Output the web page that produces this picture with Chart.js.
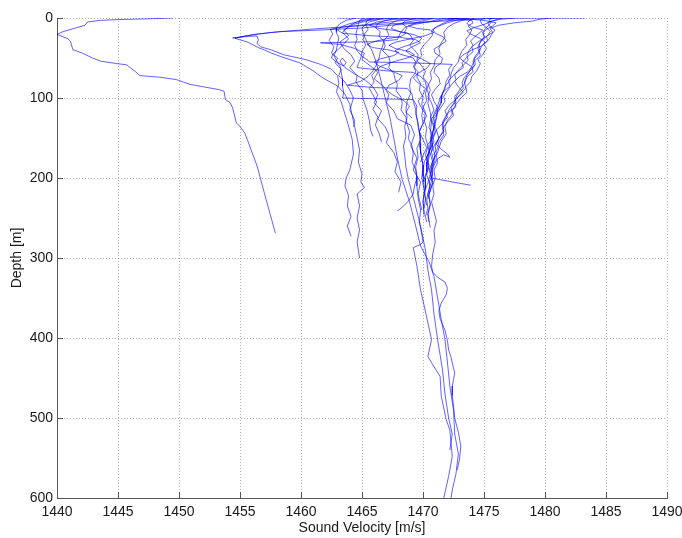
<!DOCTYPE html>
<html>
<head>
<meta charset="utf-8">
<script src="https://cdn.jsdelivr.net/npm/chart.js@4/dist/chart.umd.min.js"></script>
<style>
  html, body { margin: 0; padding: 0; background: #ffffff; }
  canvas { display: block; }
</style>
</head>
<body>
<canvas id="svp" width="682" height="538"></canvas>
<script>
// Sound velocity casts: each entry is [depth (m), sound velocity (m/s)]
const cast01 = [[0,1449.5],[1,1447.5],[2,1445],[3,1443.5],[5,1442.5],[9,1442.3],[14,1441.2],[17,1440.5],[20.5,1440],[26,1440.9],[29,1441.1],[39.6,1441.3],[44,1442.1],[50,1442.9],[54,1443.6],[57,1444.9],[58.5,1445.7],[66.7,1446.4],[72,1446.8],[74,1448.4],[77,1449.8],[83,1450.9],[86,1452],[89.6,1453.3],[91.7,1453.7],[102,1453.8],[106,1454.2],[112.5,1454.4],[131,1454.7],[135.5,1455],[144,1455.4],[152,1455.6],[185,1456.4],[219,1457],[269,1457.9]];
const cast02 = [[0,1473.0],[3,1471.5],[6,1469.8],[9,1467.4],[12.5,1465.0],[15,1461.6],[17,1458.3],[20,1456.4],[24,1454.9],[25,1454.4],[23,1455.6],[22.5,1456.4],[27,1456.5],[32,1456.4],[36,1456.7],[40,1457.6],[46,1458.6],[52,1460.4],[58,1461.6],[64,1462.5],[72,1463.0],[82,1463.1],[92,1462.9],[105,1463.3],[120,1463.6],[135,1463.9],[152,1464.2],[170,1464.3],[190,1464.0],[200,1463.7],[210,1463.6],[222,1463.9],[235,1463.8],[248,1464.1],[260,1463.8],[273,1464.1]];
const cast03 = [[0,1470.2],[4,1467.8],[8,1465.6],[11,1463.6],[14,1460.8],[18,1457.6],[22,1455.6],[25.5,1454.6],[30,1455.6],[37,1456.5],[40,1457.0],[44,1457.6],[48,1458.3],[56,1459.9],[66,1461.0],[75,1461.8],[85,1463.0],[95,1463.6],[108,1464.0],[122,1464.2],[136,1464.4],[150,1464.6],[165,1464.8],[180,1464.7],[195,1465.0],[205,1464.9],[212,1465.2],[220,1464.6],[235,1464.8],[250,1464.6],[265,1464.8],[280,1464.6],[290,1464.7],[300,1464.8]];
const cast04 = [[0,1467.6],[3,1465.6],[8,1464.3],[15,1463.5],[22,1463.9],[30,1463.2],[38,1463.5],[46,1464.1],[54,1464.4],[62,1464.0],[72,1464.6],[80,1464.5],[90,1465.0],[102,1465.1],[115,1465.4],[128,1465.6],[140,1465.7],[148,1465.9]];
const cast05 = [[0,1471.0],[5,1469.6],[12,1468.5],[20,1468.1],[27,1467.9],[29.6,1466.0],[31,1461.6],[33,1463.2],[38,1464.4],[44,1465.2],[52,1465.0],[60,1465.7],[68,1466.3],[76,1466.0],[86,1466.8],[96,1467.2],[106,1467.0],[116,1467.6],[126,1467.9],[134,1469.0],[146,1469.3],[160,1469.0],[175,1469.5],[190,1469.2],[205,1469.8],[220,1469.6],[240,1469.9]];
const cast06 = [[0,1466.0],[3,1465.4],[8,1465.3],[14,1465.5],[20,1465.2],[27,1465.1],[34,1465.3],[42,1465.0],[50,1464.9],[57,1464.7],[62,1464.6],[66,1467.0],[68,1469.2],[73,1469.8],[80,1470.2],[88,1470.3],[97,1470.5],[107,1470.4],[118,1470.6],[130,1470.7],[142,1470.6],[155,1470.8],[168,1470.7],[180,1470.9],[190,1470.8],[200,1470.7],[205,1472.4],[209,1473.9]];
const cast07 = [[0,1468.8],[3,1467.9],[8,1467.2],[14,1467.0],[21,1467.2],[28,1466.8],[35,1466.7],[42,1466.5],[50,1466.4],[58,1466.2],[66,1465.9],[73,1465.5],[79,1464.9],[84,1463.8],[87,1466.0],[88,1468.7],[95,1469.1],[104,1469.2],[114,1469.4],[125,1469.5],[136,1469.6],[148,1469.8],[160,1469.7],[172,1469.9],[186,1470.0],[200,1469.9],[215,1470.1],[230,1470.0],[248,1470.1]];
const cast08 = [[0,1464.5],[3,1463.7],[7,1463.2],[12,1462.9],[18,1462.9],[25,1463.1],[32,1463.0],[40,1462.9],[47,1462.7],[53,1462.9],[60,1463.2],[68,1463.3],[76,1463.4],[85,1463.4],[93,1463.5],[100,1463.4],[101,1466.5],[102,1469.2],[110,1469.5],[120,1469.4],[131,1469.6],[143,1469.7],[156,1469.8],[170,1469.8],[184,1470.0],[198,1470.0],[212,1470.1],[226,1470.2],[238,1470.1]];
const cast09 = [[0,1465.8],[4,1464.7],[10,1463.9],[18,1463.4],[26,1463.9],[34,1463.4],[40,1463.0],[45,1462.6],[50,1462.5],[55,1462.9],[60,1463.5],[56,1463.7],[50,1463.4],[54,1463.2],[62,1463.6],[70,1464.4],[78,1465.3],[86,1465.9],[96,1466.3],[106,1466.0],[116,1466.6],[126,1466.3],[136,1466.9],[146,1467.2],[156,1467.0],[168,1467.6],[180,1467.9],[192,1467.7],[205,1468.2],[218,1468.0]];
const cast10 = [[0,1476.5],[2,1476.0],[6,1475.3],[11,1475.5],[15,1475.9],[21,1475.6],[27,1475.4],[33,1475.0],[38,1475.2],[46,1474.9],[52,1474.5],[57,1474.7],[66,1474.4],[73,1474.0],[80,1473.9],[86,1473.5],[93,1473.6],[100,1473.1],[108,1472.7],[116,1472.4],[122,1472.5],[130,1472.0],[138,1471.6],[146,1471.7],[155,1471.3],[163,1471.2],[170,1470.9],[178,1471.0],[187,1470.7],[196,1470.8],[205,1470.5],[214,1470.6],[226,1470.4]];
const cast11 = [[0,1475.0],[3,1474.7],[7,1474.8],[12,1475.2],[17,1475.5],[22,1475.3],[28,1474.8],[33,1474.6],[40,1474.7],[47,1474.3],[54,1474.1],[60,1474.2],[67,1473.8],[74,1473.4],[81,1473.2],[88,1473.3],[96,1472.8],[104,1472.6],[111,1472.7],[118,1472.1],[126,1471.8],[134,1471.6],[142,1471.7],[150,1471.3],[158,1471.1],[164,1471.5],[170,1472.0],[174,1472.2],[171,1471.7],[176,1471.2],[184,1470.9],[194,1470.6],[204,1470.7],[214,1470.5],[226,1470.3],[238,1470.4],[248,1470.2],[255,1470.3]];
const cast12 = [[0,1474.2],[3,1473.8],[7,1473.6],[11,1474.0],[15,1474.9],[19,1474.6],[24,1474.2],[29,1473.9],[34,1474.1],[40,1473.8],[47,1473.6],[53,1473.7],[59,1473.3],[65,1472.9],[71,1472.6],[77,1472.7],[84,1472.3],[91,1472.0],[98,1471.7],[104,1471.8],[111,1471.5],[118,1471.2],[126,1470.9],[134,1471.0],[142,1470.8],[150,1470.6],[160,1470.7],[170,1470.4],[180,1470.3],[192,1470.3],[205,1470.0]];
const cast13 = [[0,1483.3],[0.6,1472.0],[1.5,1473.8],[3,1475.0],[6,1476.0],[10,1475.7],[14,1475.2],[19,1474.9],[24,1475.1],[30,1474.5],[36,1474.0],[42,1474.1],[49,1473.6],[56,1473.2],[62,1473.3],[70,1472.6],[78,1472.1],[85,1472.2],[92,1471.7],[100,1471.4],[110,1471.2],[120,1470.9],[130,1470.8],[140,1471.1],[148,1470.9],[158,1470.4],[168,1470.5],[180,1470.1],[192,1470.0],[205,1470.1]];
const cast14 = [[0,1480.5],[1.5,1479.6],[4,1478.9],[6,1477.5],[9,1476.2],[13,1475.5],[18,1475.7],[23,1475.2],[28,1475.3],[34,1474.9],[40,1474.6],[47,1474.7],[54,1474.2],[60,1474.0],[67,1474.1],[74,1473.6],[82,1473.4],[90,1473.0],[98,1472.6],[105,1472.7],[113,1472.2],[122,1471.9],[130,1471.6],[140,1471.7],[150,1471.3],[160,1471.0],[170,1471.1],[180,1470.8],[192,1470.7],[206,1470.8],[220,1470.5]];
const cast15 = [[0,1469.5],[3,1468.6],[7,1468.3],[12,1468.7],[17,1468.5],[22,1469.0],[28,1469.2],[34,1468.9],[40,1469.3],[46,1469.6],[53,1469.5],[60,1469.9],[67,1470.2],[74,1470.0],[82,1470.4],[90,1470.6],[98,1470.4],[106,1470.7],[115,1470.9],[124,1470.6],[133,1470.8],[142,1471.0],[152,1470.7],[162,1470.8],[172,1471.0],[182,1470.7],[194,1470.6],[206,1470.8],[220,1470.5],[234,1470.6],[246,1470.4],[255,1470.5]];
const cast16 = [[0,1468.0],[3,1466.9],[7,1466.3],[12,1466.1],[17,1466.5],[23,1466.4],[29,1466.8],[35,1466.9],[41,1466.7],[48,1467.2],[55,1467.3],[62,1467.2],[69,1467.6],[76,1467.7],[83,1467.9],[91,1467.8],[99,1468.2],[107,1468.3],[115,1468.2],[124,1468.6],[133,1468.7],[142,1468.9],[151,1468.8],[160,1469.1],[170,1469.2],[180,1469.1],[190,1469.4],[200,1469.5],[210,1469.3],[220,1469.2],[229,1468.8],[235,1468.4],[239,1468.1],[241,1467.9]];
const cast17 = [[0,1470.8],[2,1469.9],[5,1468.7],[9,1467.6],[13,1467.4],[17,1468.1],[21,1469.3],[25,1469.9],[29,1469.7],[33,1469.0],[37,1468.2],[41,1467.7],[45,1468.1],[50,1469.2],[55,1469.4],[61,1469.2],[67,1469.6],[74,1469.5],[82,1469.8],[90,1469.7],[99,1470.0],[108,1469.9],[118,1470.2],[128,1470.1],[138,1470.3],[149,1470.2],[160,1470.4],[172,1470.2],[184,1470.5],[196,1470.3],[208,1470.6],[220,1470.4],[232,1470.6],[244,1470.4],[254,1470.5],[262,1470.6]];
const cast18 = [[0,1465.2],[3,1464.8],[8,1464.7],[14,1464.6],[20,1464.5],[27,1464.6],[34,1464.4],[41,1464.6],[48,1465.0],[53,1465.5],[55,1465.6],[56,1469.0],[58,1472.4],[64,1472.1],[71,1472.2],[79,1471.9],[88,1471.8],[97,1471.5],[106,1471.5],[116,1471.2],[126,1471.1],[137,1470.9],[148,1470.7],[160,1470.6],[172,1470.5],[186,1470.4],[200,1470.2],[214,1470.2],[228,1470.0],[245,1470.1]];
const cast19 = [[0,1473.5],[2,1472.9],[6,1472.0],[10,1471.3],[14,1470.8],[19,1471.0],[24,1471.7],[29,1471.9],[34,1471.4],[39,1470.9],[44,1471.0],[50,1471.6],[56,1471.5],[62,1471.0],[68,1470.9],[75,1471.3],[82,1471.4],[89,1471.0],[96,1470.7],[104,1470.9],[112,1471.2],[120,1471.0],[128,1470.6],[137,1470.5],[146,1470.8],[155,1470.9],[164,1470.6],[174,1470.3],[184,1470.4],[195,1470.6],[206,1470.4],[218,1470.1],[234,1470.3]];
const cast20 = [[0,1466.8],[5,1465.6],[12,1465.0],[19,1465.1],[30,1465.4],[40,1465.8],[52,1466.1],[75,1466.5],[100,1466.9],[125,1467.3],[150,1467.6],[175,1467.9],[202,1468.3],[230,1468.9],[260,1469.4],[285,1469.8],[305,1470.5],[323,1470.9],[350,1471.2],[377,1471.5],[402,1471.8],[430,1472.0],[460,1472.2],[490,1472.5],[520,1472.6],[545,1472.9],[570,1472.7],[590,1472.4],[600,1472.3]];
const cast21 = [[0,1476.2],[2,1474.0],[5,1470.2],[8,1466.5],[11,1463.6],[14,1462.4],[20,1462.6],[28,1462.3],[36,1462.7],[44,1462.5],[50,1463.0],[56,1462.8],[64,1463.3],[72,1463.1],[80,1463.6],[90,1464.0],[100,1464.3],[115,1464.0],[128,1464.4],[136,1464.3]];
const cast22 = [[0,1473.8],[3,1473.2],[7,1472.5],[12,1472.0],[18,1471.7],[24,1471.8],[31,1471.5],[38,1471.3],[45,1471.4],[52,1471.0],[60,1470.9],[68,1470.6],[76,1470.7],[85,1470.4],[94,1470.2],[103,1470.3],[112,1470.0],[122,1469.9],[132,1470.0],[142,1469.7],[152,1469.8],[163,1469.5],[174,1469.6],[186,1469.4],[198,1469.5],[210,1469.5],[225,1469.6],[240,1469.8],[255,1469.7],[270,1469.9],[280,1470.0],[283,1469.8],[287,1469.2],[310,1469.5],[340,1469.8],[360,1470.1],[381,1470.4],[402,1470.7],[423,1470.4],[431,1470.7],[448,1471.4],[473,1471.5],[502,1471.9],[515,1472.2],[548,1472.4],[573,1472.1],[600,1471.7]];
const cast23 = [[0,1475.8],[2,1475.4],[5,1475.6],[9,1475.4],[13,1475.1],[18,1474.9],[24,1475.0],[30,1474.7],[37,1474.5],[44,1474.6],[51,1474.2],[58,1474.3],[65,1473.9],[72,1473.6],[80,1473.4],[88,1473.5],[96,1473.0],[104,1472.6],[112,1472.3],[120,1472.4],[128,1472.0],[136,1471.8],[145,1471.9],[154,1471.5],[163,1471.3],[172,1471.1],[181,1471.2],[190,1470.9],[200,1471.0],[210,1470.8],[220,1470.9],[230,1470.7],[242,1470.9],[254,1471.1],[266,1470.9],[280,1471.0],[295,1470.8],[310,1470.7],[318,1470.8],[324,1471.2],[330,1471.8],[338,1472.0],[346,1471.9],[356,1471.5],[366,1471.3],[376,1471.4],[390,1471.8],[403,1472.0],[415,1472.1],[424,1472.3],[431,1472.4],[444,1472.6],[452,1472.5],[460,1472.4],[472,1472.4],[485,1472.5],[500,1472.6],[518,1472.9],[535,1473.1],[551,1473.0],[565,1472.8]];
const cast24 = [[0,1472.8],[3,1472.2],[7,1471.6],[11,1471.1],[16,1470.7],[21,1470.8],[27,1470.5],[33,1470.1],[40,1469.8],[47,1469.9],[54,1469.5],[61,1469.3],[68,1469.4],[76,1469.0],[85,1468.9],[94,1469.0],[104,1468.7],[114,1468.6],[124,1468.7],[136,1468.5],[148,1468.6],[160,1468.4],[172,1468.5],[186,1468.6],[202,1468.8],[230,1469.3],[260,1469.8],[290,1470.2],[315,1470.4],[340,1470.7],[370,1470.9],[402,1471.2],[440,1471.6],[470,1471.8],[500,1472.1],[520,1472.4],[540,1472.2]];
const cast25 = [[0,1463.0],[0.5,1468.0],[1,1472.5],[3,1474.0],[6,1474.1],[10,1473.7],[15,1474.0],[21,1473.8],[27,1473.5],[34,1473.6],[41,1473.2],[48,1473.0],[55,1472.9],[62,1472.5],[70,1472.3],[78,1472.2],[86,1471.8],[95,1471.6],[104,1471.5],[114,1471.2],[124,1471.1],[134,1470.9],[145,1470.8],[156,1470.6],[168,1470.5],[185,1470.3]];
const cast26 = [[0,1469.0],[2,1467.5],[5,1466.2],[9,1465.6],[13,1466.4],[16,1467.8],[19,1468.6],[23,1468.2],[26,1467.0],[29,1466.1],[33,1465.4],[37,1465.9],[40,1467.2],[43,1468.0],[47,1467.6],[51,1466.5],[55,1466.0],[60,1466.4],[66,1467.4],[72,1468.3],[78,1468.0],[84,1467.2],[90,1467.0],[96,1467.5],[103,1468.4],[110,1468.9],[118,1468.6],[125,1469.1]];
const cast27 = [[0,1466.5],[3,1465.2],[7,1464.0],[11,1463.3],[15,1463.0],[19,1463.4],[22,1465.5],[24,1468.0],[27,1469.4],[31,1469.8],[36,1469.1],[41,1468.6],[46,1469.0],[51,1469.9],[57,1470.6],[63,1470.3],[69,1469.6],[75,1469.2],[81,1469.6],[88,1470.2],[96,1470.0],[104,1469.6],[113,1469.9],[122,1470.3],[132,1470.0],[142,1469.7],[152,1470.0],[162,1470.3],[172,1470.0],[180,1469.8]];
const cast28 = [[0,1472.0],[2,1471.2],[5,1470.4],[8,1469.3],[10,1468.8],[13,1469.5],[15,1470.6],[18,1470.9],[22,1470.2],[26,1469.0],[30,1467.8],[34,1467.2],[38,1467.7],[42,1468.9],[46,1469.3],[50,1468.7],[55,1467.5],[60,1466.6],[66,1466.1],[72,1465.8],[80,1466.0],[88,1465.6],[96,1465.9],[105,1466.2],[114,1465.9],[124,1466.3],[134,1466.1],[144,1466.4],[155,1466.6]];
const cast29 = [[0,1477.5],[1.5,1476.4],[4,1475.6],[8,1475.0],[12,1474.2],[16,1473.6],[20,1473.9],[25,1474.6],[30,1475.1],[35,1474.8],[40,1474.0],[45,1473.4],[50,1473.0],[55,1473.4],[61,1474.0],[67,1473.7],[73,1473.0],[79,1472.6],[86,1472.9],[93,1473.3],[100,1472.8],[108,1472.2],[116,1471.8],[124,1472.0],[132,1471.6],[140,1471.1],[150,1471.3],[160,1470.9],[170,1470.6],[180,1470.8],[190,1470.5]];

const casts = [cast01, cast02, cast03, cast04, cast05, cast06, cast07, cast08, cast09, cast10,
               cast11, cast12, cast13, cast14, cast15, cast16, cast17, cast18, cast19, cast20,
               cast21, cast22, cast23, cast24, cast25, cast26, cast27, cast28, cast29];

// Axis ranges and tick values
const velocityTicks = [1440, 1445, 1450, 1455, 1460, 1465, 1470, 1475, 1480, 1485, 1490];
const depthTicks = [0, 100, 200, 300, 400, 500, 600];

const FONT = { family: '"Liberation Sans", Arial, Helvetica, sans-serif', size: 14 };
const INK = '#1a1a1a';
const AXIS = '#555555';

// Short tick marks pointing into the plot area
const inwardTicks = {
  id: 'inwardTicks',
  afterDatasetsDraw(chart) {
    const { ctx, chartArea: a, scales: { x, y } } = chart;
    ctx.save();
    ctx.strokeStyle = AXIS;
    ctx.lineWidth = 1;
    ctx.beginPath();
    velocityTicks.forEach(v => {
      const px = Math.round(x.getPixelForValue(v)) + 0.5;
      ctx.moveTo(px, a.bottom);
      ctx.lineTo(px, a.bottom - 6);
    });
    depthTicks.forEach(d => {
      const py = Math.round(y.getPixelForValue(d)) + 0.5;
      ctx.moveTo(a.left, py);
      ctx.lineTo(a.left + 6, py);
    });
    ctx.stroke();
    ctx.restore();
  }
};

const datasets = casts.map((cast, i) => ({
  label: 'Cast ' + (i + 1),
  data: cast.map(([depth, speed]) => ({ x: speed, y: depth })),
  showLine: true,
  borderColor: 'rgba(0, 0, 255, 0.62)',
  borderWidth: 1,
  pointRadius: 0,
  pointHoverRadius: 0,
  tension: 0,
  fill: false
}));

new Chart(document.getElementById('svp'), {
  type: 'scatter',
  data: { datasets },
  options: {
    responsive: false,
    animation: false,
    devicePixelRatio: 1,
    layout: { padding: { left: 0, top: 18, right: 15, bottom: 0 } },
    plugins: {
      legend: { display: false },
      tooltip: { enabled: false }
    },
    scales: {
      x: {
        type: 'linear',
        position: 'bottom',
        min: 1440,
        max: 1490,
        afterBuildTicks: s => { s.ticks = velocityTicks.map(v => ({ value: v })); },
        afterFit: s => { s.height = 40; s.paddingLeft = 0; s.paddingRight = 0; },
        ticks: { color: INK, font: FONT, padding: 6, maxRotation: 0, autoSkip: false, callback: v => String(v) },
        grid: { color: 'rgba(0,0,0,0.3)', lineWidth: 1, drawTicks: false },
        border: { display: true, color: AXIS, width: 1, dash: [1, 2] },
        title: {
          display: true,
          text: 'Sound Velocity [m/s]',
          color: INK,
          font: FONT,
          padding: { top: 0, bottom: 1 }
        }
      },
      y: {
        type: 'linear',
        position: 'left',
        reverse: true,
        min: 0,
        max: 600,
        afterBuildTicks: s => { s.ticks = depthTicks.map(d => ({ value: d })); },
        afterFit: s => { s.width = 57; },
        ticks: { color: INK, font: FONT, padding: 4, callback: v => String(v) },
        grid: { color: 'rgba(0,0,0,0.3)', lineWidth: 1, drawTicks: false },
        border: { display: true, color: AXIS, width: 1, dash: [1, 2] },
        title: {
          display: true,
          text: 'Depth [m]',
          color: INK,
          font: FONT,
          padding: { top: 9, bottom: 0 }
        }
      }
    }
  },
  plugins: [inwardTicks]
});
</script>
</body>
</html>
